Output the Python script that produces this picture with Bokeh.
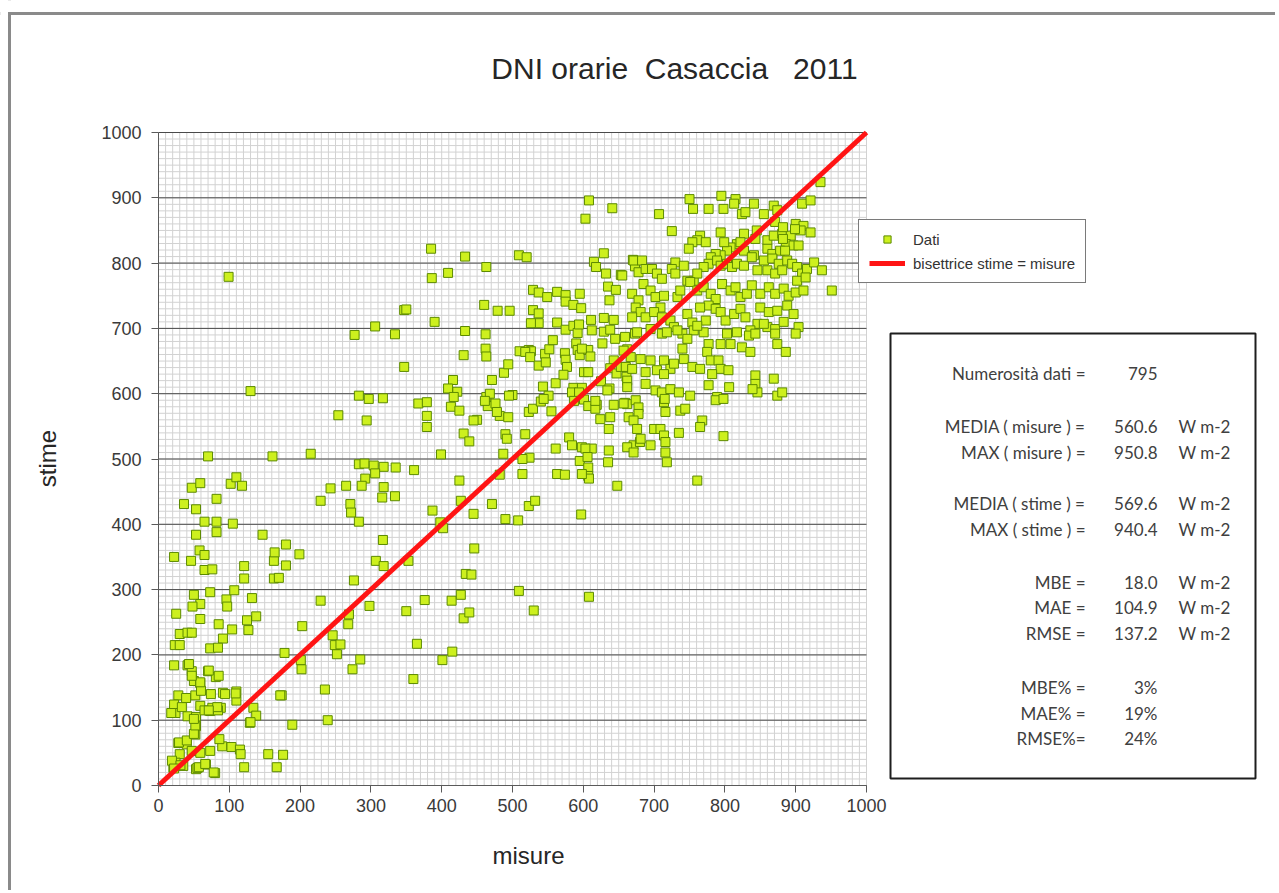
from bokeh.plotting import figure
from bokeh.models import (Range1d, FixedTicker, LinearAxis, Label, BoxAnnotation, Span,
                          Legend, LegendItem)
from bokeh.embed import file_html
from bokeh.resources import INLINE

zona_bassa_sx = [(70,504),(161,504),(215,508),(399,507),(487,508),(524,502),(514,500),
    (283,492),(291,493),(304,490),(318,488),(335,487),(361,483),
    (306,478),(292,470),(287,459),(318,457),(316,441),(334,443),(265,459),(243,455),(229,436),(271,431),(272,418),(283,404),
    (425,467),(387,421),(398,403),(402,394),(445,416),(471,431),(490,408),(508,406),(523,428),(532,436),(514,477),(482,476),
    (563,477),(574,476),(597,415),(595,497),(607,487),(607,474),(608,470),(635,495),(648,459),
    (36,431),(47,456),(59,463),(53,423),(65,404),(82,404),(105,401),(82,439),(102,462),(110,472),(118,459),(53,384),(82,388),(147,384),
    (22,350),(46,344),(58,360),(65,353),(65,330),(76,331),(121,336),(121,317),(163,344),(164,357),(180,369),(180,337),(163,317),(170,318),(199,354),
    (25,263),(50,292),(59,278),(48,274),(59,255),(73,296),(96,285),(97,274),(107,299),(132,287),(138,259),(125,253),(127,238),(85,247),
    (104,239),(91,225),(73,210),(84,211),(30,232),(41,234),(23,215),(30,215),(47,234),
    (22,184),(41,184),(47,175),(50,160),(59,157),(70,175),(81,166),
    (28,138),(39,134),(52,138),(60,145),(74,140),(91,142),(110,144),(110,130),
    (22,124),(24,111),(33,120),(41,106),(53,105),(59,122),(65,115),(76,119),(88,119),(73,114),(84,115),(18,111),
    (53,91),(52,78),(134,119),(138,107),(129,96),(189,93),(174,138),(239,100),(235,147),
    (28,65),(40,63),(30,48),(47,53),(59,50),(24,35),(21,27),(35,30),(53,25),(55,27),(67,32),(73,53),(90,60),(103,59),(115,55),(116,48),
    (80,19),(86,71),(121,28),(155,48),(167,28),(176,47)]

zona_bassa_centro = [(203,244),(229,283),(201,192),(202,178),(178,203),(246,230),(249,215),(252,201),(257,216),(268,247),(274,178),
    (285,193),(276,314),(298,275),(307,344),(318,336),(317,376),(350,267),(353,344),(365,217),(360,163),(376,284),(401,192),(415,205),
    (414,283),(427,292),(431,256),(439,265),(434,324),(442,323),(446,363),(509,298),(530,268),(608,289),(269,262),(427,436)]

vicino_origine = [(19,38),(31,31),(22,26),(57,28),(66,33),(78,20),(29,66),(40,69),(50,79),(52,92),(50,102),(83,120),(71,115),
    (94,140),(109,141),(85,168),(71,176),(59,158),(47,168),(43,186),(172,138),(130,97)]

zona_alta_sx = [(99,779),(130,604),(254,567),(283,597),(297,592),(317,593),(294,559),(277,690),(306,703),(334,691),(347,728),(350,729),
    (347,641),(367,585),(379,587),(379,566),(379,549),(385,822),(386,777),(390,710),(409,785),(433,810),(433,696),(463,794),(460,736),
    (479,727),(496,727),(462,691),(462,669),(463,657),(431,659),(416,621),(422,603),(409,608),(413,580),(425,574),(431,539),(439,527),
    (450,560),(463,595),(468,600),(465,581),(471,621),(476,585),(482,566),(494,564),(488,632),(494,645),(500,598),(509,812),(520,809),
    (523,667),(526,665),(523,572),(529,577)]

zona_alta_centro = [(529,759),(537,755),(549,748),(563,756),(575,751),(575,741),(586,736),(595,753),(529,728),(537,723),(537,708),
    (526,708),(546,661),(552,668),(557,682),(543,611),(561,616),(540,588),(555,573),(563,709),(575,698),(586,704),(592,693),(574,662),
    (575,652),(577,641),(572,629),(590,677),(592,667),(595,659),(607,667),(610,657),(586,609),(598,609),(601,591),(607,581),(601,633),
    (607,633),(608,896),(603,868),(641,884),(629,815),(615,802),(618,794),(632,784),(653,782),(635,764),(646,759),(637,743),(611,713),
    (629,716),(643,713),(629,695),(638,698),(627,677),(645,684),(643,651),(638,639),(647,631),(625,619),(637,608),(619,583),(643,583),
    (638,564),(659,586),(664,564),(659,687),(662,668),(670,805),(673,795),(673,692),(653,641),(661,626),
    (510,665),(518,664),(525,656),(537,643),(547,648),(598,669),(495,597),(417,595),(461,589),(478,572),(551,597),(544,592),(584,602),
    (594,602),(587,589),(445,559),(490,538),(492,531),(518,538),(561,516),(580,533),(584,521),(598,518),(612,516),(598,477),(617,577),
    (624,561),(636,546),(617,589),(634,605),(662,584),(671,521),(636,513),(597,731),(594,706),(612,697),(678,786),(603,516),(606,503),
    (680,526)]

zona_alta_dx = [(750,898),(755,883),(707,875),(725,849),(777,883),(795,903),(798,883),(815,898),(813,891),(824,875),(829,878),(841,891),
    (855,875),(869,888),(874,881),(794,847),(765,842),(761,835),(754,832),(749,822),(773,832),(827,845),(845,850),(843,837),(860,835),
    (869,842),(881,845),(893,842),(900,860),(911,857),(907,850),(921,847),(909,891),(921,896),(935,924),(886,829),(897,827),(904,827),
    (860,822),(867,814),(878,819),(841,812),(827,819),(817,829),(808,824),(803,819),(794,812),(787,814),(780,809),(777,799),(770,794),
    (671,804),(683,804),(688,791),(697,791),(704,784),(711,776),(655,781),(730,801),(725,791),(730,784),(742,796),(747,773),(756,773),
    (761,784),(789,804),(794,796),(803,799),(810,794),(817,799),(827,796),(838,809),(846,789),(855,804),(867,807),(876,799),(888,804),
    (895,799),(860,789),(871,784),(881,789),(902,794),(909,784),(916,791),(926,801),(937,789),(951,758),(902,773),(914,778),
    (669,753),(678,743),(674,732),(681,725),(669,717),(688,717),(685,768),(695,758),(702,748),(714,750),(709,732),(700,725),(711,717),
    (723,712),(728,702),(733,748),(737,758),(751,771),(761,758),(770,763),(780,753),(787,745),(777,735),(787,730),(796,768),(808,758),
    (815,763),(822,748),(831,753),(838,766),(794,725),(801,712),(813,722),(822,730),(829,717),(850,753),(862,763),(871,753),(883,761),
    (890,750),(900,755),(850,732),(862,725),(874,727),(888,735),(897,722),(846,707),(860,702),(871,699),(883,710),(904,702),(747,722),
    (754,709),(765,732),(773,712),(817,694),(836,697),(803,692),(740,692),(756,697),(770,694),(676,694),(695,699),(711,692),
    (799,832),(822,832),(871,863),(882,855),(899,852),(882,837),(885,819),(911,758)]

zona_media_dx = [(718,694),(733,697),(747,684),(740,669),(761,704),(777,676),(775,664),(794,676),(808,676),(834,689),(843,692),
    (855,707),(871,692),(874,676),(886,664),(900,692),(824,671),(836,664),(657,666),(667,656),(660,641),(669,638),(662,620),(662,610),
    (681,653),(695,651),(688,633),(704,636),(688,615),(714,651),(723,638),(714,630),(728,646),(742,653),(754,641),(765,638),(780,651),
    (791,651),(794,638),(782,630),(805,636),(843,628),(843,615),(846,602),(869,623),(874,597),(881,602),(777,613),(789,595),(787,590),
    (806,610),(798,592),(702,605),(711,602),(723,607),(735,602),(751,597),(657,585),(674,590),(678,579),(678,569),(671,559),(676,546),
    (681,531),(714,587),(716,572),(737,574),(744,577),(768,559),(765,549),(700,546),(709,546),(735,540),(714,536),(716,526),(798,535),
    (662,518),(671,510),(695,521),(716,510),(718,495),(761,467),(715,592),(839,607)]

zone = [zona_bassa_sx, zona_bassa_centro, vicino_origine, zona_alta_sx, zona_alta_centro, zona_alta_dx, zona_media_dx]
misure = [pt[0] for z in zone for pt in z]
stime = [pt[1] for z in zone for pt in z]

bisettrice = [0, 1000]
tick_principali = [0, 100, 200, 300, 400, 500, 600, 700, 800, 900, 1000]
tick_secondari = list(range(0, 1001, 10))

NB = "\u00a0"
titolo = "DNI orarie" + NB + " Casaccia" + NB + NB + " 2011"
etichetta_x = "misure"
etichetta_y = "stime"
voci_legenda = ["Dati", "bisettrice stime = misure"]

stat_nomi = ["Numerosità dati =", "MEDIA ( misure ) =", "MAX ( misure ) =", "MEDIA ( stime ) =", "MAX ( stime ) =",
             "MBE =", "MAE =", "RMSE =", "MBE% =", "MAE% =", "RMSE%="]
stat_valori = ["795", "560.6", "950.8", "569.6", "940.4", "18.0", "104.9", "137.2", "3%", "19%", "24%"]
stat_unita = ["", "W m-2", "W m-2", "W m-2", "W m-2", "W m-2", "W m-2", "W m-2", "", "", ""]

# ---------------- layout (page pixels) ----------------
W, H = 1275, 890                      # canvas size; the frame covers the whole canvas
FL, FR, FT, FB = 158, 866, 132, 785   # where data 0..1000 lies on the page
KX = (FR - FL) / 1000.0
KY = (FB - FT) / 1000.0
def sx(px): return px            # screen x (from left)
def sy(py): return H - py        # screen y (from bottom)
stat_rows_y = [373, 426, 452, 503, 529, 582, 607, 633, 687, 713, 738]

p = figure(width=W, height=H,
           x_range=Range1d(-FL / KX, (W - FL) / KX),
           y_range=Range1d((FB - H) / KY, FB / KY),
           x_axis_type=None, y_axis_type=None,
           output_backend="svg", toolbar_location=None, title=None,
           min_border=0, background_fill_color="white", border_fill_color="white")
p.outline_line_color = None

# grid lines (from the tick lists), limited to the plot area
g0 = [0] * len(tick_secondari)
g1 = [1000] * len(tick_secondari)
p.segment(x0=tick_secondari, y0=g0, x1=tick_secondari, y1=g1, line_color="#d2d2d2", line_width=1)
p.segment(x0=g0, y0=tick_secondari, x1=g1, y1=tick_secondari, line_color="#d2d2d2", line_width=1)
p.segment(x0=[0] * len(tick_principali), y0=tick_principali, x1=[1000] * len(tick_principali), y1=tick_principali,
          line_color="#4a4a4a", line_width=1)

# axes fixed at the data origin
xaxis = LinearAxis(fixed_location=0, bounds=(0, 1000), ticker=FixedTicker(ticks=tick_principali, minor_ticks=[]))
yaxis = LinearAxis(fixed_location=0, bounds=(0, 1000), ticker=FixedTicker(ticks=tick_principali, minor_ticks=[]))
for ax in (xaxis, yaxis):
    ax.major_label_text_font = "Liberation Sans"
    ax.major_label_text_font_size = "18px"
    ax.major_label_text_color = "#3a3a3a"
    ax.major_tick_out = 7
    ax.major_tick_in = 0
    ax.minor_tick_line_color = None
    ax.axis_line_color = "#5a5a5a"
    ax.major_tick_line_color = "#5a5a5a"
xaxis.major_label_standoff = 6
yaxis.major_label_standoff = 10
p.add_layout(xaxis, "below")
p.add_layout(yaxis, "left")

r_pts = p.scatter(misure, stime, marker="square", size=9, fill_color="#cdf01e",
                  line_color="#5c8a00", line_width=1)
r_line = p.line(bisettrice, bisettrice, line_color="#ff1414", line_width=5)

# axis titles
p.add_layout(Label(x=sx(528), y=sy(855), x_units="screen", y_units="screen", text=etichetta_x,
                   text_align="center", text_baseline="middle", text_font="Liberation Sans",
                   text_font_size="24px", text_color="#262626"))
p.add_layout(Label(x=sx(47), y=sy(458), x_units="screen", y_units="screen", text=etichetta_y, angle=1.5707963,
                   text_align="center", text_baseline="middle", text_font="Liberation Sans",
                   text_font_size="24px", text_color="#262626"))

# title
p.add_layout(Label(x=sx(674), y=sy(68), x_units="screen", y_units="screen", text=titolo,
                   text_align="center", text_baseline="middle", text_font="Liberation Sans",
                   text_font_size="30px", text_color="#262626"))

legend = Legend(items=[LegendItem(label=voci_legenda[0], renderers=[r_pts]),
                       LegendItem(label=voci_legenda[1], renderers=[r_line])],
                location=(sx(858), sy(283)), orientation="vertical",
                label_text_font="Liberation Sans", label_text_font_size="15px", label_text_color="#333333",
                border_line_color="#7a7a7a", border_line_width=1, border_line_alpha=1.0,
                background_fill_color="white", background_fill_alpha=1.0,
                padding=10, spacing=6, glyph_width=36, glyph_height=18,
                label_height=18, label_standoff=8, margin=0)
p.add_layout(legend)

# outer chart frame (left and top edges of the chart area)
p.add_layout(Span(location=sx(9), dimension="height", location_units="screen",
                  line_color="#8a8a8a", line_width=3, line_alpha=1.0))
p.add_layout(Span(location=sy(13), dimension="width", location_units="screen",
                  line_color="#8a8a8a", line_width=3, line_alpha=1.0))
# blank out the parts of those edges that lie outside the chart's corner
for l, r, t, b in [(0, 11, 0, 11.5), (0, 7.5, 0, 15)]:
    p.add_layout(BoxAnnotation(left=sx(l), right=sx(r), top=sy(t), bottom=sy(b),
                               left_units="screen", right_units="screen", top_units="screen", bottom_units="screen",
                               fill_color="white", fill_alpha=1.0, line_alpha=0))

# statistics box
p.add_layout(BoxAnnotation(left=sx(890), right=sx(1255), top=sy(333), bottom=sy(778),
                           left_units="screen", right_units="screen", top_units="screen", bottom_units="screen",
                           fill_alpha=0, line_color="#1e1e1e", line_alpha=1.0, line_width=2))
for nome, val, un, ry in zip(stat_nomi, stat_valori, stat_unita, stat_rows_y):
    common = dict(y=sy(ry), x_units="screen", y_units="screen", text_baseline="middle",
                  text_font="Lato", text_font_size="17px", text_color="#404040")
    p.add_layout(Label(x=sx(1085), text=nome, text_align="right", **common))
    p.add_layout(Label(x=sx(1157), text=val, text_align="right", **common))
    if un:
        p.add_layout(Label(x=sx(1178), text=un, text_align="left", **common))

open("out.html", "w").write(file_html(p, INLINE))
